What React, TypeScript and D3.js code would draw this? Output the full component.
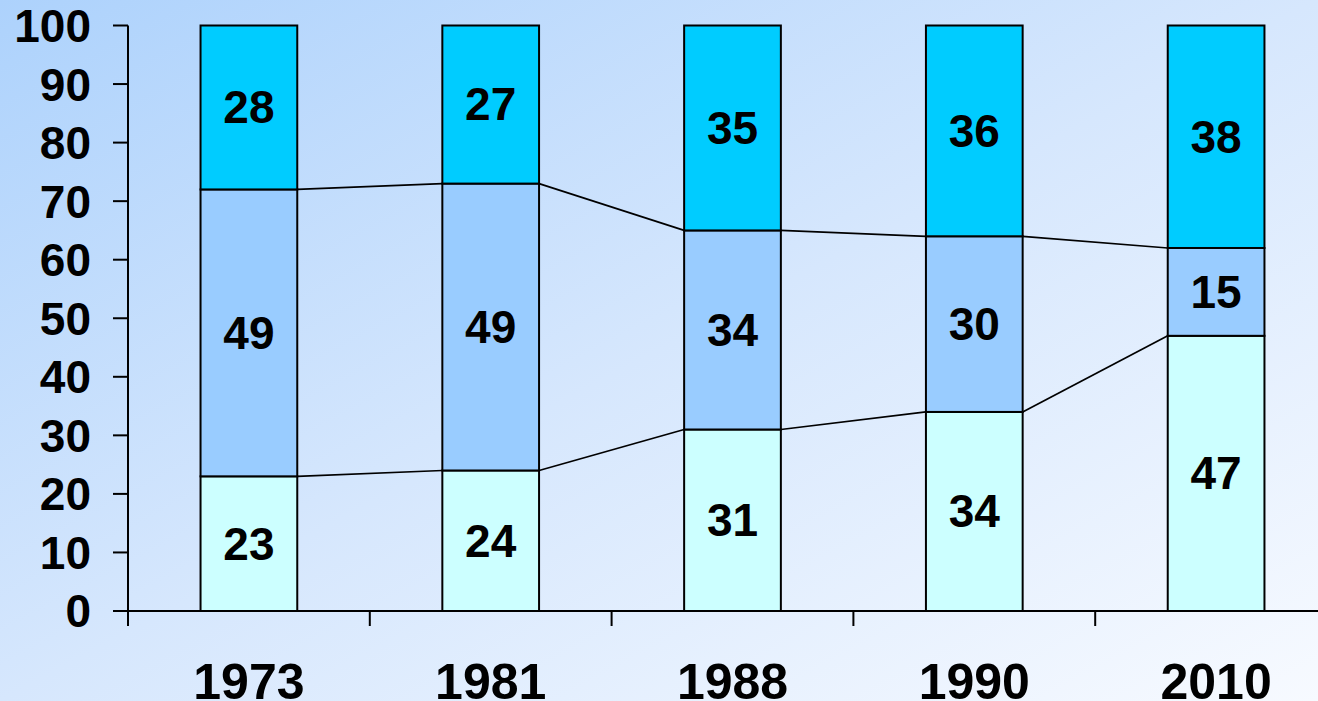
import React, { useEffect } from "react";
import * as d3 from "d3";

const years = ["1973", "1981", "1988", "1990", "2010"];
const bottomValues = [23, 24, 31, 34, 47];
const middleValues = [49, 49, 34, 30, 15];
const topValues = [28, 27, 35, 36, 38];
const yTicks = [0, 10, 20, 30, 40, 50, 60, 70, 80, 90, 100];
const seriesKeys = ["bottom", "middle", "top"];
const seriesColors = ["#CCFFFF", "#99CCFF", "#00CCFF"];

const W = 1318;
const H = 701;
const FONT = "'Liberation Sans', Arial, Helvetica, sans-serif";

export default function App() {
  useEffect(() => {
    document.body.style.margin = "0";
  }, []);

  const rows = years.map((y, i) => ({
    year: y,
    bottom: bottomValues[i],
    middle: middleValues[i],
    top: topValues[i],
  }));

  const x = d3
    .scaleBand<string>()
    .domain(years)
    .range([128, 1337])
    .paddingInner(0.6)
    .paddingOuter(0.3);
  const step = x.step();
  const bw = x.bandwidth();
  const xStart = 128;

  const y = d3.scaleLinear().domain([0, 100]).range([611, 25.5]);

  const stacked = d3.stack<any>().keys(seriesKeys)(rows);

  const connectors: { x1: number; y1: number; x2: number; y2: number }[] = [];
  [0, 1].forEach((k) => {
    const layer = stacked[k];
    for (let i = 0; i < years.length - 1; i++) {
      connectors.push({
        x1: (x(years[i]) as number) + bw,
        y1: y(layer[i][1]),
        x2: x(years[i + 1]) as number,
        y2: y(layer[i + 1][1]),
      });
    }
  });

  const xTickPos = d3.range(years.length + 1).map((i) => xStart + i * step);

  const labelFs = 46;
  const axisFs = 46;
  const xFs = 50;

  return (
    <svg
      width={W}
      height={H}
      style={{ display: "block", position: "absolute", left: 0, top: 0 }}
      fontFamily={FONT}
    >
      <defs>
        <linearGradient id="bg" x1="0" y1="0" x2="1" y2="1">
          <stop offset="0%" stopColor="#ADD2FC" />
          <stop offset="50%" stopColor="#D6E7FD" />
          <stop offset="100%" stopColor="#F7FAFF" />
        </linearGradient>
      </defs>
      <rect x={0} y={0} width={W} height={H} fill="url(#bg)" />

      {connectors.map((c, i) => (
        <line
          key={"c" + i}
          x1={c.x1}
          y1={c.y1}
          x2={c.x2}
          y2={c.y2}
          stroke="#000"
          strokeWidth={1.7}
        />
      ))}

      {stacked.map((layer, li) => (
        <g key={"l" + li}>
          {layer.map((d, i) => (
            <rect
              key={i}
              x={x(years[i])}
              y={y(d[1])}
              width={bw}
              height={y(d[0]) - y(d[1])}
              fill={seriesColors[li]}
              stroke="#000"
              strokeWidth={2}
            />
          ))}
        </g>
      ))}

      {stacked.map((layer, li) =>
        layer.map((d, i) => (
          <text
            key={"t" + li + "-" + i}
            x={(x(years[i]) as number) + bw / 2}
            y={y((d[0] + d[1]) / 2) + labelFs * 0.345}
            textAnchor="middle"
            fontSize={labelFs}
            fontWeight="bold"
            fill="#000"
          >
            {d[1] - d[0]}
          </text>
        ))
      )}

      <line x1={128} y1={y(100)} x2={128} y2={y(0) + 15} stroke="#000" strokeWidth={2} />
      {yTicks.map((t) => (
        <g key={"y" + t}>
          <line x1={113} y1={y(t)} x2={128} y2={y(t)} stroke="#000" strokeWidth={2} />
          <text
            x={91}
            y={y(t) + axisFs * 0.358}
            textAnchor="end"
            fontSize={axisFs}
            fontWeight="bold"
            fill="#000"
          >
            {t}
          </text>
        </g>
      ))}

      <line x1={128} y1={y(0)} x2={W} y2={y(0)} stroke="#000" strokeWidth={2} />
      {xTickPos.map((p, i) => (
        <line key={"xt" + i} x1={p} y1={y(0)} x2={p} y2={y(0) + 15} stroke="#000" strokeWidth={2} />
      ))}
      {years.map((yr) => (
        <text
          key={"xl" + yr}
          x={(x(yr) as number) + bw / 2}
          y={699}
          textAnchor="middle"
          fontSize={xFs}
          fontWeight="bold"
          fill="#000"
        >
          {yr}
        </text>
      ))}
    </svg>
  );
}
